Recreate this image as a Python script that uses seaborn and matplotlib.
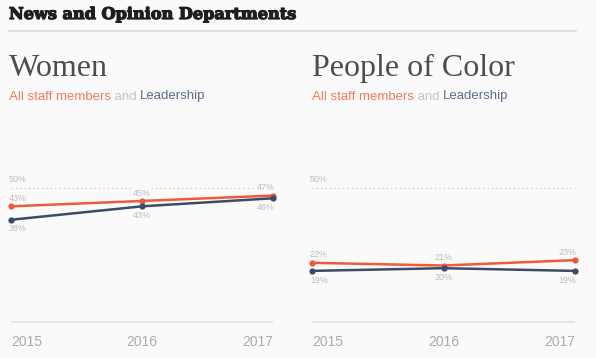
import matplotlib
matplotlib.use("Agg")
import matplotlib.pyplot as plt
import matplotlib.patheffects as pe
import seaborn as sns
import pandas as pd

# ---- data ----
years = [2015, 2016, 2017]
women_staff = [43, 45, 47]
women_lead = [38, 43, 46]
poc_staff = [22, 21, 23]
poc_lead = [19, 20, 19]
panel_titles = ["Women", "People of Color"]
series_names = ["All staff members", "Leadership"]
header = "News and Opinion Departments"
ref_value = 50

sns.set_theme(style="white")
plt.rcParams["font.family"] = ["Liberation Sans", "DejaVu Sans"]

BG = "#fafafa"
RED = "#f05a3c"
NAVY = "#3d4a68"
SUB_RED = "#f47a5e"
SUB_NAVY = "#5b6b8c"
GRAY_LBL = "#bcbcbc"
GRAY_TICK = "#ababab"
RULE = "#e2e2e2"

W, H = 596, 358
fig = plt.figure(figsize=(W / 100, H / 100), dpi=100, facecolor=BG)

def px_to_fig(x, y):
    return x / W, 1 - y / H

# Header
fig.text(*px_to_fig(9, 14.5), header, family="DejaVu Serif", weight="bold",
         fontsize=11.6, color="#1e1e1e", va="center", ha="left",
         path_effects=[pe.withStroke(linewidth=0.9, foreground="#1e1e1e")])
fig.add_artist(plt.Line2D([9 / W, 576 / W], [1 - 31 / H, 1 - 31 / H],
                          color=RULE, lw=1.6, transform=fig.transFigure))

panels = [
    (panel_titles[0], women_staff, women_lead, 11, 273, 9),
    (panel_titles[1], poc_staff, poc_lead, 312, 575, 312),
]

renderer = fig.canvas.get_renderer()
lbl_box = dict(boxstyle="square,pad=0.15", facecolor=BG, edgecolor="none")

for title, staff, lead, x0, x1, tx in panels:
    y_top, y_zero = 187.5, 322.0
    ax = fig.add_axes([x0 / W, 1 - y_zero / H, (x1 - x0) / W, (y_zero - y_top) / H])
    ax.set_facecolor("none")
    df = pd.DataFrame({
        "year": years * 2,
        "value": staff + lead,
        "series": [series_names[0]] * 3 + [series_names[1]] * 3,
    })
    sns.lineplot(data=df, x="year", y="value", hue="series", ax=ax,
                 palette={series_names[0]: RED, series_names[1]: NAVY},
                 marker="o", markersize=4.5, markeredgewidth=0, linewidth=1.8,
                 legend=False, zorder=3)
    for line in ax.lines:
        line.set_clip_on(False)
    ax.set_xlim(years[0], years[-1])
    ax.set_ylim(0, ref_value)
    for s in ax.spines.values():
        s.set_visible(False)
    ax.set_yticks([])
    ax.set_ylabel("")
    ax.set_xlabel("")
    # reference dotted line
    ax.axhline(ref_value, color="#cacaca", lw=0.9, ls=(0, (1, 2.5)), clip_on=False, zorder=1)
    ax.annotate(f"{ref_value}%", (years[0], ref_value), xytext=(-1.5, 5.5),
                textcoords="offset points", ha="left", va="center",
                fontsize=6.4, color=GRAY_LBL, zorder=2)
    # baseline
    ax.plot([years[0], years[-1]], [0, 0], color=RULE, lw=1.2, clip_on=False,
            solid_capstyle="butt", zorder=1)
    # ticks
    ax.set_xticks(years)
    ax.set_xticklabels([str(y) for y in years], fontsize=10, color=GRAY_TICK)
    ax.tick_params(axis="x", length=0, pad=9)
    for lbl, ha in zip(ax.get_xticklabels(), ["left", "center", "right"]):
        lbl.set_ha(ha)
    # value labels
    has = ["left", "center", "right"]
    for i, yr in enumerate(years):
        dx = {"left": -1.5, "center": 0, "right": 1.0}[has[i]]
        ax.annotate(f"{staff[i]}%", (yr, staff[i]), xytext=(dx, 5.7),
                    textcoords="offset points", ha=has[i], va="center",
                    fontsize=6.4, color=GRAY_LBL, bbox=lbl_box, zorder=2)
        ax.annotate(f"{lead[i]}%", (yr, lead[i]), xytext=(dx, -6.6),
                    textcoords="offset points", ha=has[i], va="center",
                    fontsize=6.4, color=GRAY_LBL, bbox=lbl_box, zorder=2)
    # panel title
    fig.text(*px_to_fig(tx - 0.5, 68), title, family="Liberation Serif", fontsize=23,
             color="#4d4d4d", va="center", ha="left")
    # subtitle in pieces
    parts = [(series_names[0], SUB_RED), (" and ", "#c4c4c4"), (series_names[1], SUB_NAVY)]
    cx = tx
    for txt, col in parts:
        t = fig.text(*px_to_fig(cx, 96.5), txt, fontsize=9.5, color=col,
                     va="center", ha="left")
        bb = t.get_window_extent(renderer=renderer)
        cx += bb.width

fig.savefig("out.png", dpi=100, facecolor=BG)
